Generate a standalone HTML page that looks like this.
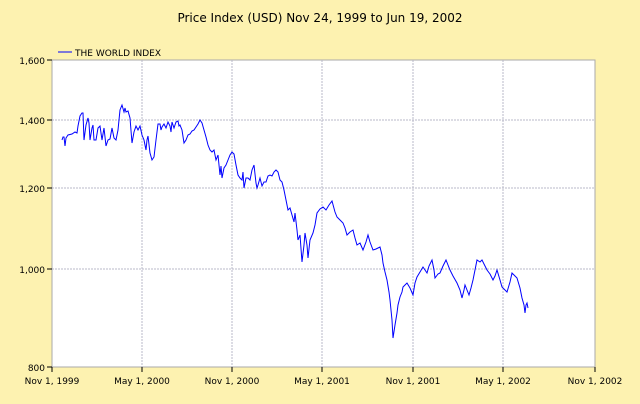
<!DOCTYPE html>
<html><head><meta charset="utf-8"><style>
html,body{margin:0;padding:0;}
body{width:640px;height:400px;background:#fdf2b0;font-family:"DejaVu Sans","Liberation Sans",sans-serif;}
</style></head><body>
<svg width="640" height="400" xmlns="http://www.w3.org/2000/svg" font-family="DejaVu Sans, Liberation Sans, sans-serif">
<rect x="0" y="0" width="640" height="400" fill="#fdf2b0"/>
<text x="320" y="22" font-size="12" text-anchor="middle" fill="#000">Price Index (USD) Nov 24, 1999 to Jun 19, 2002</text>
<line x1="58" y1="52" x2="72" y2="52" stroke="#0000ff" stroke-width="1"/>
<text x="75" y="56" font-size="9" fill="#000">THE WORLD INDEX</text>
<rect x="52" y="60" width="543" height="307" fill="#fff" stroke="#aaa" stroke-width="1"/>
<g stroke="#b8b8c8" stroke-width="1" stroke-dasharray="2,1">
<line x1="142" y1="60" x2="142" y2="367"/><line x1="232" y1="60" x2="232" y2="367"/>
<line x1="322" y1="60" x2="322" y2="367"/><line x1="413" y1="60" x2="413" y2="367"/>
<line x1="503" y1="60" x2="503" y2="367"/>
<line x1="52" y1="120" x2="595" y2="120"/><line x1="52" y1="188" x2="595" y2="188"/>
<line x1="52" y1="269" x2="595" y2="269"/>
</g>
<g stroke="#000" stroke-width="1">
<line x1="47" y1="60" x2="52" y2="60"/><line x1="47" y1="120" x2="52" y2="120"/>
<line x1="47" y1="188" x2="52" y2="188"/><line x1="47" y1="269" x2="52" y2="269"/>
<line x1="47" y1="367" x2="52" y2="367"/>
<line x1="52" y1="367" x2="52" y2="372"/><line x1="142" y1="367" x2="142" y2="372"/>
<line x1="232" y1="367" x2="232" y2="372"/><line x1="322" y1="367" x2="322" y2="372"/>
<line x1="413" y1="367" x2="413" y2="372"/><line x1="503" y1="367" x2="503" y2="372"/>
<line x1="595" y1="367" x2="595" y2="372"/>
</g>
<g font-size="9" fill="#000" text-anchor="end">
<text x="45" y="64">1,600</text><text x="45" y="124">1,400</text>
<text x="45" y="192">1,200</text><text x="45" y="273">1,000</text><text x="45" y="371">800</text>
</g>
<g font-size="9" fill="#000" text-anchor="middle">
<text x="52" y="384">Nov 1, 1999</text><text x="142" y="384">May 1, 2000</text>
<text x="232" y="384">Nov 1, 2000</text><text x="322" y="384">May 1, 2001</text>
<text x="413" y="384">Nov 1, 2001</text><text x="503" y="384">May 1, 2002</text>
<text x="595" y="384">Nov 1, 2002</text>
</g>
<polyline fill="none" stroke="#0000ff" stroke-width="1" points="62,140 63,137 64,137 65,146 66,138 68,135 72,134 75,132 77,133 78,126 80,116 82,113 83,113 84,140 86,125 88,118 89,123 90,140 92,128 93,125 94,140 96,140 98,128 100,126 102,140 104,128 106,146 108,140 110,139 112,128 114,138 116,140 118,130 120,110 122,105 124,112 125,108 126,112 128,111 130,118 132,143 134,132 136,126 138,130 140,126 142,135 144,140 146,150 147,140 148,136 150,153 152,160 154,157 156,140 158,124 160,124 161,130 162,127 164,124 166,128 168,122 170,126 171,132 172,122 174,128 176,122 178,121 179,126 180,125 182,130 184,143 186,140 188,135 190,134 192,131 194,130 196,127 198,124 200,120 202,123 204,130 206,137 208,145 210,150 212,152 214,150 216,160 218,155 220,175 221,166 222,178 224,168 226,165 228,160 230,155 232,152 234,154 236,165 238,175 240,178 242,180 243,172 244,188 246,178 248,178 250,180 252,170 254,165 256,183 257,188 258,185 260,178 262,186 264,182 266,182 268,176 270,175 272,176 274,172 276,170 278,172 280,180 282,182 284,190 286,200 288,210 290,208 292,215 294,222 295,213 297,230 298,240 300,235 302,262 304,245 305,233 307,245 308,258 310,240 313,233 315,225 317,213 320,209 323,207 326,210 329,205 332,201 335,212 337,217 340,220 343,223 345,228 347,235 350,232 353,230 355,238 357,245 360,243 363,250 366,242 368,235 370,242 373,250 376,249 380,247 382,255 383,263 385,272 387,280 389,292 390,300 392,320 393,338 395,325 397,313 398,305 400,297 402,292 403,287 405,285 407,283 410,288 413,295 415,283 417,277 420,272 423,267 425,270 427,273 429,266 432,260 434,270 435,278 438,274 440,273 443,266 446,260 448,265 450,270 453,276 457,283 460,290 462,298 464,290 465,285 467,290 469,295 471,288 473,280 475,270 477,260 480,262 482,260 485,266 487,270 490,274 493,280 495,276 497,270 500,280 502,287 505,290 507,292 510,282 512,273 515,276 517,278 520,288 522,298 524,305 525,313 526,305 527,303 528,308"/>
</svg>
</body></html>
